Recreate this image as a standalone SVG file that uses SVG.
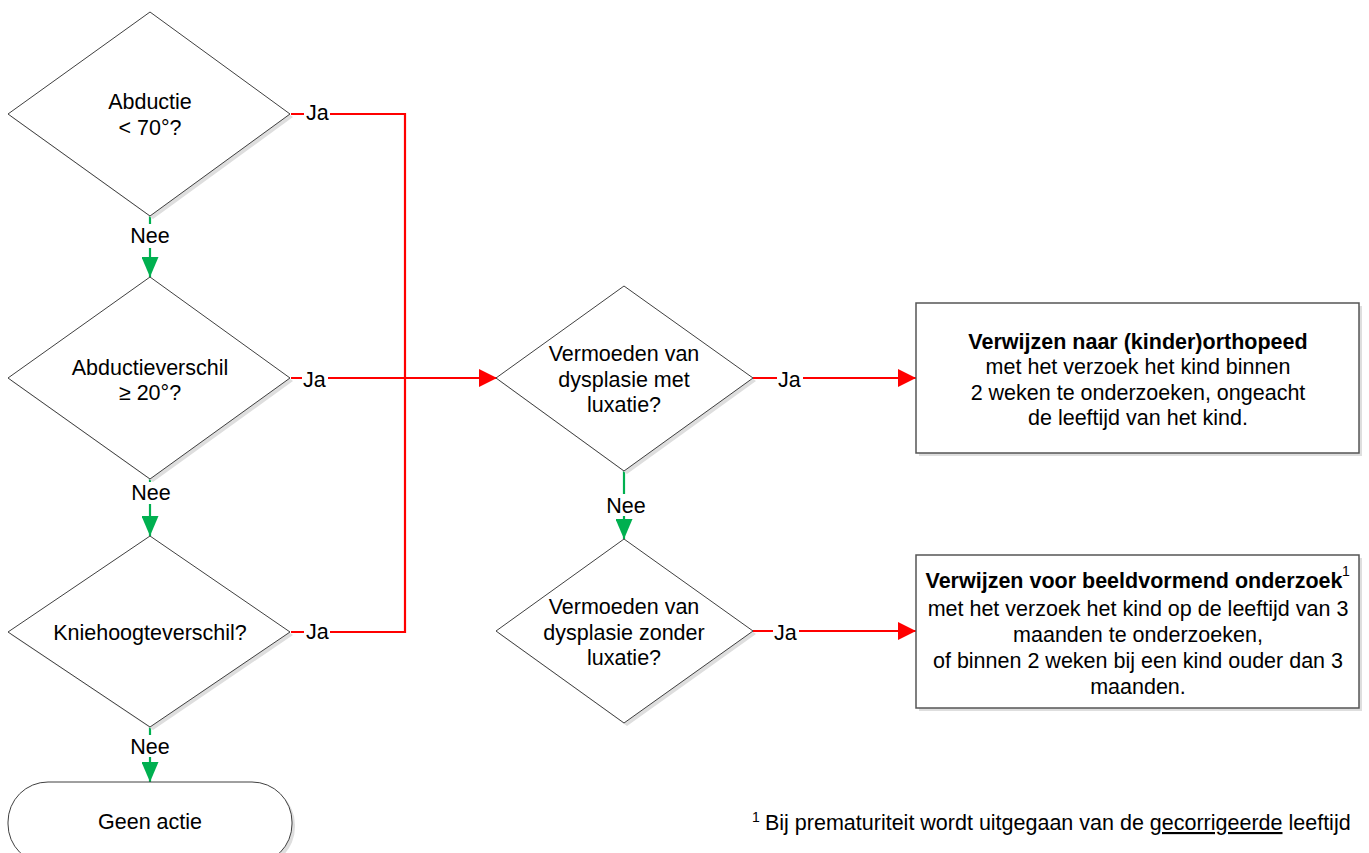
<svg xmlns="http://www.w3.org/2000/svg" width="1369" height="853" viewBox="0 0 1369 853">
<defs>
<style>
text{font-family:"Liberation Sans",Arial,sans-serif;font-size:21.5px;fill:#000}
.c{text-anchor:middle}
.b{font-weight:bold}
.shape{fill:#fff;stroke:#404040;stroke-width:1}
.box{fill:#fff;stroke:#555;stroke-width:1.5}
.sh{fill:#dedede;stroke:none}
.red{fill:none;stroke:#ff0000;stroke-width:2.2}
.grn{fill:none;stroke:#00b050;stroke-width:2.2}
.lbl{fill:#fff;stroke:none}
</style>
<marker id="ag" markerUnits="userSpaceOnUse" markerWidth="20" markerHeight="17" viewBox="0 0 20 17" refX="20" refY="8.5" orient="auto"><path d="M0,0 L20,8.5 L0,17 z" fill="#00b050"/></marker>
<marker id="ar" markerUnits="userSpaceOnUse" markerWidth="18" markerHeight="18" viewBox="0 0 18 18" refX="18" refY="9" orient="auto"><path d="M0,0 L18,9 L0,18 z" fill="#ff0000"/></marker>
</defs>
<rect width="1369" height="853" fill="#fff"/>

<g id="connectors">
<polyline class="red" points="291,114 405,114 405,632 291,632"/>
<line class="red" x1="291" y1="378" x2="497" y2="378" marker-end="url(#ar)"/>
<line class="red" x1="753" y1="378" x2="916" y2="378" marker-end="url(#ar)"/>
<line class="red" x1="753" y1="631" x2="916" y2="631" marker-end="url(#ar)"/>
<line class="grn" x1="150" y1="216" x2="150" y2="277" marker-end="url(#ag)"/>
<line class="grn" x1="150" y1="479" x2="150" y2="536" marker-end="url(#ag)"/>
<line class="grn" x1="150" y1="727" x2="150" y2="782" marker-end="url(#ag)"/>
<line class="grn" x1="624" y1="471" x2="624" y2="539" marker-end="url(#ag)"/>
<rect class="lbl" x="304" y="102" width="26" height="22"/>
<text x="306" y="120">Ja</text>
<rect class="lbl" x="302" y="368" width="26" height="22"/>
<text x="303" y="387">Ja</text>
<rect class="lbl" x="304" y="621" width="26" height="22"/>
<text x="306" y="639">Ja</text>
<rect class="lbl" x="777" y="368" width="26" height="22"/>
<text x="778" y="387">Ja</text>
<rect class="lbl" x="773" y="621" width="26" height="22"/>
<text x="774" y="640">Ja</text>
<rect class="lbl" x="128" y="224" width="44" height="24"/>
<text class="c" x="150" y="243">Nee</text>
<rect class="lbl" x="128" y="482" width="44" height="22"/>
<text class="c" x="151" y="500">Nee</text>
<rect class="lbl" x="128" y="735" width="44" height="22"/>
<text class="c" x="150" y="754">Nee</text>
<rect class="lbl" x="603" y="494" width="44" height="22"/>
<text class="c" x="626" y="513">Nee</text>
</g>

<g id="d1">
<polygon class="sh" points="153,15 293,117 153,219 11,117"/>
<polygon class="shape" points="150,12 290,114 150,216 8,114"/>
<text class="c" x="150" y="109">Abductie</text>
<text class="c" x="150" y="135">&lt; 70°?</text>
</g>

<g id="d2">
<polygon class="sh" points="153,280 293,381 153,482 11,381"/>
<polygon class="shape" points="150,277 290,378 150,479 8,378"/>
<text class="c" x="150" y="375">Abductieverschil</text>
<text class="c" x="150" y="400">≥ 20°?</text>
</g>

<g id="d3">
<polygon class="sh" points="153,539 293,635 153,730 11,635"/>
<polygon class="shape" points="150,536 290,632 150,727 8,632"/>
<text class="c" x="150" y="640">Kniehoogteverschil?</text>
</g>

<g id="geen">
<rect class="sh" x="11" y="785" width="284" height="82" rx="40"/>
<rect class="shape" x="8" y="782" width="284" height="82" rx="40"/>
<text class="c" x="150" y="829">Geen actie</text>
</g>

<g id="d4">
<polygon class="sh" points="627,289 756,381 627,474 499,381"/>
<polygon class="shape" points="624,286 753,378 624,471 496,378"/>
<text class="c" x="624" y="361">Vermoeden van</text>
<text class="c" x="624" y="387">dysplasie met</text>
<text class="c" x="624" y="412">luxatie?</text>
</g>

<g id="d5">
<polygon class="sh" points="627,542 756,634 627,726 499,634"/>
<polygon class="shape" points="624,539 753,631 624,723 496,631"/>
<text class="c" x="624" y="614">Vermoeden van</text>
<text class="c" x="624" y="640">dysplasie zonder</text>
<text class="c" x="624" y="665">luxatie?</text>
</g>

<g id="box1">
<rect class="sh" x="919" y="306" width="443" height="150"/>
<rect class="box" x="916" y="303" width="443" height="150"/>
<text class="c b" x="1138" y="349">Verwijzen naar (kinder)orthopeed</text>
<text class="c" x="1138" y="374">met het verzoek het kind binnen</text>
<text class="c" x="1138" y="400">2 weken te onderzoeken, ongeacht</text>
<text class="c" x="1138" y="425">de leeftijd van het kind.</text>
</g>

<g id="box2">
<rect class="sh" x="919" y="558" width="443" height="153"/>
<rect class="box" x="916" y="555" width="443" height="153"/>
<text class="c b" x="1134" y="588">Verwijzen voor beeldvormend onderzoek</text>
<text x="1342" y="576" style="font-size:14px">1</text>
<text class="c" x="1138" y="616">met het verzoek het kind op de leeftijd van 3</text>
<text class="c" x="1138" y="642">maanden te onderzoeken,</text>
<text class="c" x="1138" y="668">of binnen 2 weken bij een kind ouder dan 3</text>
<text class="c" x="1138" y="694">maanden.</text>
</g>

<g id="footnote">
<text x="752" y="822" style="font-size:14px">1</text>
<text x="765" y="830">Bij prematuriteit wordt uitgegaan van de <tspan text-decoration="underline">gecorrigeerde</tspan> leeftijd</text>
</g>
</svg>
